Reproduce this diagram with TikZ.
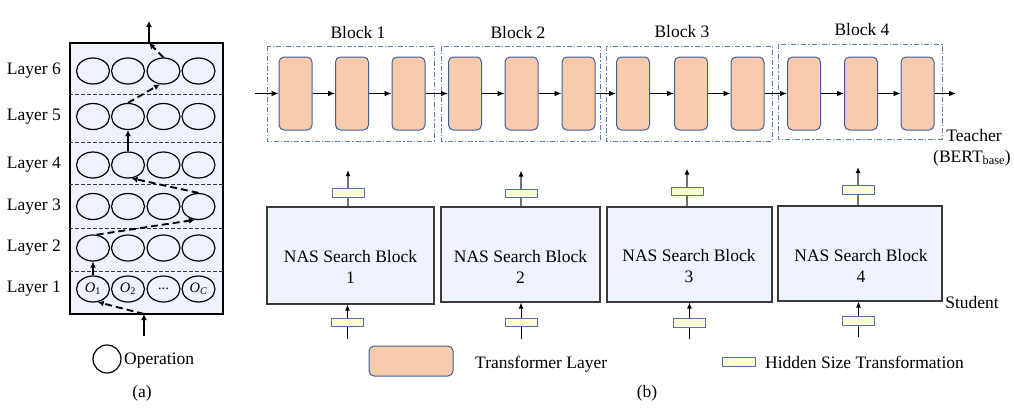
\documentclass[tikz,border=0pt]{standalone}
\usepackage{fontspec}
\setmainfont{Liberation Serif}
\usetikzlibrary{arrows.meta,shapes.geometric,calc}
\definecolor{panelfill}{HTML}{EEF2FC}
\definecolor{studfill}{HTML}{EEF3FD}
\definecolor{tlfill}{HTML}{F8CBAD}
\definecolor{tlborder}{HTML}{3E5F99}
\definecolor{hsfill}{HTML}{FDFDD6}
\definecolor{hsborder}{HTML}{4F72A8}
\definecolor{blkdash}{HTML}{5B7DB5}
\definecolor{studborder}{HTML}{3A3A3A}
\tikzset{
  txt/.style={inner sep=0pt,font=\fontsize{17.5}{21}\selectfont},
  op/.style={ellipse,draw,line width=1.2pt,minimum width=33pt,minimum height=26pt,inner sep=0pt,font=\fontsize{14.5}{15}\selectfont},
  sep/.style={dash pattern=on 3.5pt off 2.5pt,line width=0.9pt,black!80},
  pathd/.style={line width=1.9pt,dash pattern=on 7pt off 4pt,-{Latex[length=6pt,width=6pt]}},
  paths/.style={line width=1.9pt,-{Latex[length=6pt,width=6pt]}},
  tl/.style={rounded corners=5pt,fill=tlfill,draw=tlborder,line width=1pt,minimum width=33pt,minimum height=73pt,inner sep=0pt},
  blk/.style={draw=blkdash,line width=1pt,dash pattern=on 5pt off 2pt on 1.2pt off 2pt},
  chain/.style={line width=0.8pt,-{Latex[length=7pt,width=5.5pt]}},
  hs/.style={fill=hsfill,draw=hsborder,line width=1pt,minimum width=32pt,minimum height=8.5pt,inner sep=0pt},
  stud/.style={fill=studfill,draw=studborder,line width=1.2pt,inner sep=0pt},
  upl/.style={line width=1.2pt,black!55},
  upa/.style={line width=1.2pt,black!55,-{Latex[length=6pt,width=5pt,fill=black,color=black]}},
  inl/.style={line width=0.9pt,black},
  ina/.style={line width=0.9pt,black,-{Latex[length=6pt,width=5pt]}},
}
\begin{document}
\begin{tikzpicture}[x=1pt,y=-1pt]
\useasboundingbox (0,0) rectangle (1014,407);
% ---------------- panel (a)
\node[draw,line width=1.2pt,fill=panelfill,minimum width=153pt,minimum height=271pt,inner sep=0pt] (pa) at (146.5,178.5) {};
\foreach \y in {94,142,184,228,271}
  \draw[sep] (pa.west |- 0,\y) -- (pa.east |- 0,\y);
\foreach \r/\y in {6/71,5/116.5,4/165,3/206.5,2/248,1/289}{
  \node[txt,anchor=east] (lab\r) at (61,\y) {Layer \r};
}
\foreach \r/\y in {6/71,5/116.5,4/165,3/206.5,2/248}{
  \foreach \c/\x in {1/93,2/128,3/163.5,4/198.5}
    \node[op] (L\r C\c) at (\x,\y) {};
}
\node[op] (L1C1) at (93,289) {\textit{O}\textsubscript{1}};
\node[op] (L1C2) at (128,289) {\textit{O}\textsubscript{2}};
\node[op] (L1C3) at (163.5,289) {...};
\node[op] (L1C4) at (198.5,289) {\textit{O}\textsubscript{\textit{C}}};
\coordinate (ain) at (144,336);
\coordinate (abot) at (144,314);
\coordinate (atop) at (149,43);
\coordinate (aout) at (149,21);
\draw[paths] (ain) -- (abot);
\draw[pathd] (abot) -- (L1C1.-70);
\draw[paths] (L1C1.north) -- (L2C1.south);
\draw[pathd] (L2C1.75) -- (L3C4.-105);
\draw[pathd] (L3C4.north) -- (L4C2.-75);
\draw[paths] (L4C2.north) -- (L5C2.south);
\draw[pathd] (L5C2.north) -- (L6C3.-105);
\draw[pathd] (L6C3.north) -- (atop);
\draw[paths] (atop) -- (aout);
% legend a
\node[draw,circle,line width=1.2pt,minimum size=28pt,inner sep=0pt] (opleg) at (107,359) {};
\node[txt,anchor=west] (optxt) at (124,361) {Operation};
\node[txt] (capa) at (142,393) {(a)};
% ---------------- panel (b) teacher
\draw[blk] (267,46) rectangle (434,141);
\draw[blk] (441,46) rectangle (600,141);
\draw[blk] (606,46) rectangle (772,141);
\draw[blk] (778,44) rectangle (942,139);
\node[txt] (b1) at (358,33) {Block 1};
\node[txt] (b2) at (518,33) {Block 2};
\node[txt] (b3) at (682,32) {Block 3};
\node[txt] (b4) at (862,30) {Block 4};
\foreach \i/\x in {1/295.5,2/352,3/408.5,4/465,5/521.5,6/578.5,7/633,8/691,9/747.5,10/804,11/861,12/917.5}
  \node[tl] (T\i) at (\x,93.5) {};
\coordinate (tin) at (255,93.5);
\coordinate (tout) at (956,93.5);
\draw[chain] (tin) -- (T1.west);
\foreach \i [evaluate=\i as \j using int(\i+1)] in {1,...,11}
  \draw[chain] (T\i.east) -- (T\j.west);
\draw[chain] (T12.east) -- (tout);
\node[txt] (teach) at (974,136) {Teacher};
\node[txt] (bert) at (972,158) {(BERT\textsubscript{base})};
% ---------------- student
\node[stud,minimum width=167pt,minimum height=97pt] (S1) at (350.5,255.5) {};
\node[stud,minimum width=159pt,minimum height=95pt] (S2) at (520.5,254.5) {};
\node[stud,minimum width=165pt,minimum height=95pt] (S3) at (689.5,254.5) {};
\node[stud,minimum width=164pt,minimum height=95pt] (S4) at (860,253.5) {};
\foreach \i/\x/\y in {1/350.5/266.5,2/520.5/266.5,3/689/266.5,4/861/265.5}
  \node[txt,align=center] (st\i) at (\x,\y) {NAS Search Block\\[0pt]\i};
\node[txt] (stud) at (972,303) {Student};
% hidden size transforms
\node[hs] (H1t) at (348,193) {};
\node[hs] (H2t) at (521,193.5) {};
\node[hs] (H3t) at (687,191.5) {};
\node[hs] (H4t) at (858,190) {};
\node[hs] (H1b) at (347.5,322.5) {};
\node[hs] (H2b) at (521,322.5) {};
\node[hs] (H3b) at (689.5,323) {};
\node[hs] (H4b) at (858.5,321) {};
\foreach \i in {1,2,3,4}{
  \coordinate (o\i) at ($(H\i t.center)+(0,-23)$);
  \coordinate (i\i) at ($(H\i b.center)+(0,16)$);
  \draw[upl] (S\i.north -| H\i t.center) -- (H\i t.south);
  \draw[upa] (H\i t.north) -- (o\i);
  \draw[inl] (i\i) -- (H\i b.south);
  \draw[ina] (H\i b.north) -- (S\i.south -| H\i b.center);
}
% legend b
\node[tl,minimum width=84pt,minimum height=30pt] (legtl) at (411,361) {};
\node[txt,anchor=west] (legtltxt) at (475,364) {Transformer Layer};
\node[hs,minimum width=33pt] (leghs) at (738.5,362) {};
\node[txt,anchor=west] (leghstxt) at (765,362) {Hidden Size Transformation};
\node[txt] (capb) at (647,393) {(b)};
\end{tikzpicture}
\end{document}
